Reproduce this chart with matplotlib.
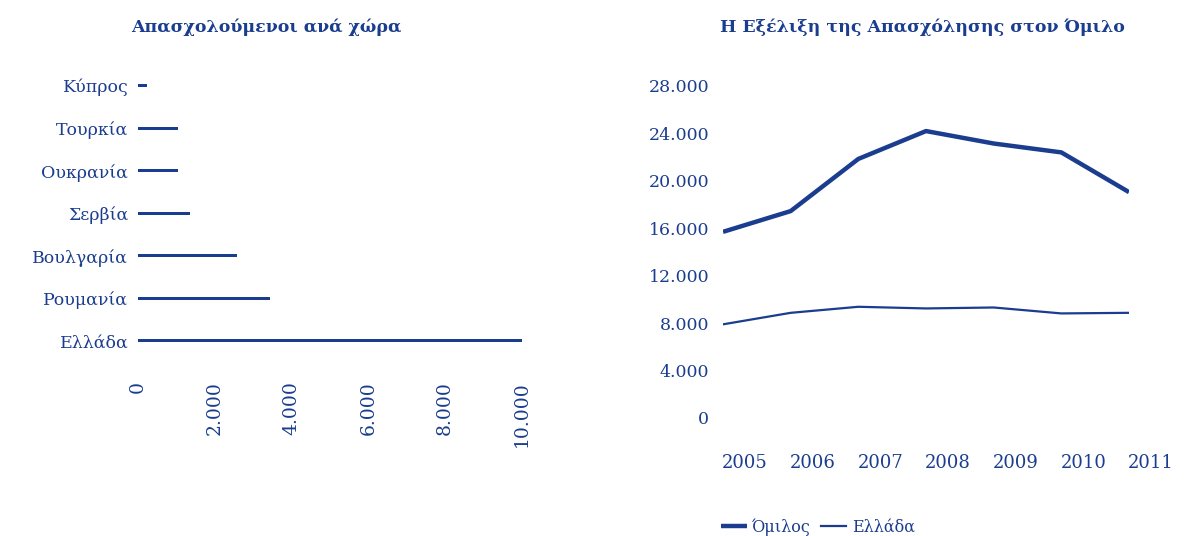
import numpy as np
import matplotlib.pyplot as plt
import matplotlib.transforms as mtransforms

# δεδομένα
xores = ['Ελλάδα', 'Ρουμανία', 'Βουλγαρία', 'Σερβία', 'Ουκρανία', 'Τουρκία', 'Κύπρος']
apasx = [10000, 3430, 2580, 1350, 1040, 1040, 230]
x_ticks = [0, 2000, 4000, 6000, 8000, 10000]
x_labels = ['0', '2.000', '4.000', '6.000', '8.000', '10.000']

eti = ['2005', '2006', '2007', '2008', '2009', '2010', '2011']
omilos = [15700, 17450, 21850, 24200, 23150, 22400, 19050]
ellada = [7900, 8870, 9380, 9240, 9320, 8820, 8870]
y_ticks = [0, 4000, 8000, 12000, 16000, 20000, 24000, 28000]
y_labels = ['0', '4.000', '8.000', '12.000', '16.000', '20.000', '24.000', '28.000']

c = '#1b3d8f'
plt.rcParams['font.family'] = ['DejaVu Serif']
plt.rcParams['text.color'] = c
plt.rcParams['xtick.color'] = c
plt.rcParams['ytick.color'] = c

W, H = 1189, 536
fig = plt.figure(figsize=(W/100, H/100), dpi=100)

# αριστερό γράφημα
ax1 = fig.add_axes([138/W, 1-362/H, (522-138)/W, 297.5/H])
pos = np.arange(len(xores))
ax1.barh(pos, apasx, height=0.08, color=c)
ax1.set_yticks(pos)
ax1.set_yticklabels(xores, fontsize=12.5)
ax1.set_xticks(x_ticks)
ax1.set_xticklabels(x_labels, rotation=90, fontsize=13.5, va='top')
ax1.set_xlim(0, 10000)
ax1.set_ylim(-0.5, 6.5)
ax1.tick_params(length=0)
ax1.tick_params(axis='y', pad=7)
ax1.tick_params(axis='x', pad=14)
for s in ax1.spines.values():
    s.set_visible(False)
fig.text(266/W, 1-27/H, 'Απασχολούμενοι ανά χώρα', ha='center', va='center',
         fontsize=12.5, fontweight='bold')

# δεξί γράφημα
ax2 = fig.add_axes([723/W, 1-418/H, (1129-723)/W, (418-86)/H])
xx = np.arange(len(eti))
ax2.plot(xx, omilos, color=c, lw=3.2, label='Όμιλος', solid_capstyle='butt')
ax2.plot(xx, ellada, color=c, lw=1.6, label='Ελλάδα')
ax2.set_yticks(y_ticks)
ax2.set_yticklabels(y_labels, fontsize=12.5)
ax2.set_xticks(xx)
ax2.set_xticklabels(eti, fontsize=13)
ax2.set_xlim(0, 6)
ax2.set_ylim(0, 28000)
ax2.tick_params(length=0)
ax2.tick_params(axis='y', pad=10)
ax2.tick_params(axis='x', pad=26)
# οι ετικέτες των ετών είναι μετατοπισμένες δεξιά
off = mtransforms.ScaledTranslation(0.22, 0, fig.dpi_scale_trans)
for lab in ax2.get_xticklabels():
    lab.set_transform(lab.get_transform() + off)
for s in ax2.spines.values():
    s.set_visible(False)
fig.text(922/W, 1-27/H, 'Η Εξέλιξη της Απασχόλησης στον Όμιλο', ha='center', va='center',
         fontsize=12.5, fontweight='bold')

fig.legend(loc='center left', bbox_to_anchor=(721/W, 1-527/H), ncol=2, frameon=False,
           fontsize=11.5, handlelength=1.6, handletextpad=0.35, columnspacing=0.6,
           borderaxespad=0, borderpad=0)

fig.savefig('out.png', dpi=100)
